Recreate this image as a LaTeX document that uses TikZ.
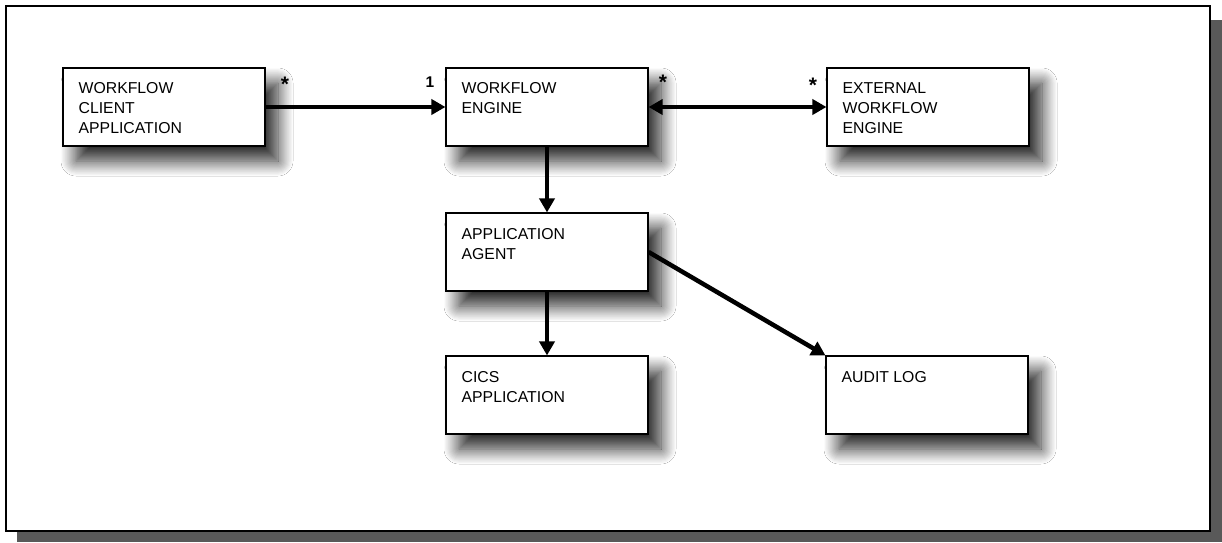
\documentclass[tikz,border=0pt]{standalone}
\usepackage{fontspec}
\setmainfont{Liberation Sans}
\usetikzlibrary{arrows.meta,shadows.blur}
\begin{document}
\begin{tikzpicture}[x=1pt,y=-1pt,
  box/.style={draw=black, line width=1.1pt, fill=white,
    minimum width=202pt, minimum height=78pt, inner sep=0pt,
    blur shadow={shadow xshift=13pt, shadow yshift=-15pt,
      shadow blur radius=15pt, shadow opacity=85, shadow blur steps=14}},
  lbl/.style={font=\fontsize{15.8}{20}\selectfont, align=left,
    inner sep=0pt, anchor=north west},
  mult/.style={font=\bfseries\fontsize{15.5}{18}\selectfont, inner sep=0pt},
  star/.style={font=\bfseries\fontsize{21}{22}\selectfont, inner sep=0pt},
  link/.style={line width=4.5pt, -{Triangle[length=14pt,width=15pt]}},
  both/.style={line width=4.5pt, {Triangle[length=14pt,width=15pt]}-{Triangle[length=14pt,width=15pt]}},
]
\useasboundingbox (0,0) rectangle (1222,542);

% page frame with its drop shadow
\fill[black!65] (1210,20) rectangle (1222,542);
\fill[black!65] (17,531) rectangle (1222,542);
\draw[line width=1.3pt, fill=white] (6,6) rectangle (1210,531);

% components
\node[box] (wca)   at (164,107) {};
\node[box] (we)    at (547,107) {};
\node[box] (ext)   at (928,107) {};
\node[box] (aa)    at (547,252) {};
\node[box] (cics)  at (547,395) {};
\node[box] (audit) at (927,395) {};

% component names
\node[lbl] (wcat)   at ([xshift=16pt,yshift=-15pt]wca.north west)   {WORKFLOW\\CLIENT\\APPLICATION};
\node[lbl] (wet)    at ([xshift=16pt,yshift=-15pt]we.north west)    {WORKFLOW\\ENGINE};
\node[lbl] (extt)   at ([xshift=16pt,yshift=-15pt]ext.north west)   {EXTERNAL\\WORKFLOW\\ENGINE};
\node[lbl] (aat)    at ([xshift=16pt,yshift=-16pt]aa.north west)    {APPLICATION\\AGENT};
\node[lbl] (cicst)  at ([xshift=16pt,yshift=-16pt]cics.north west)  {CICS\\APPLICATION};
\node[lbl] (auditt) at ([xshift=16pt,yshift=-16pt]audit.north west) {AUDIT LOG};

% associations
\draw[link] (wca.east) -- (we.west);
\draw[both] (we.east) -- (ext.west);
\draw[link] (we.south) -- (aa.north);
\draw[link] (aa.south) -- (cics.north);
\draw[link] (aa.east) -- (audit.north west);

% multiplicities
\node[star] (m1) at (285,84) {*};
\node[mult] (m2) at (430,82) {1};
\node[star] (m3) at (663,82) {*};
\node[star] (m4) at (813,85) {*};
\end{tikzpicture}
\end{document}
